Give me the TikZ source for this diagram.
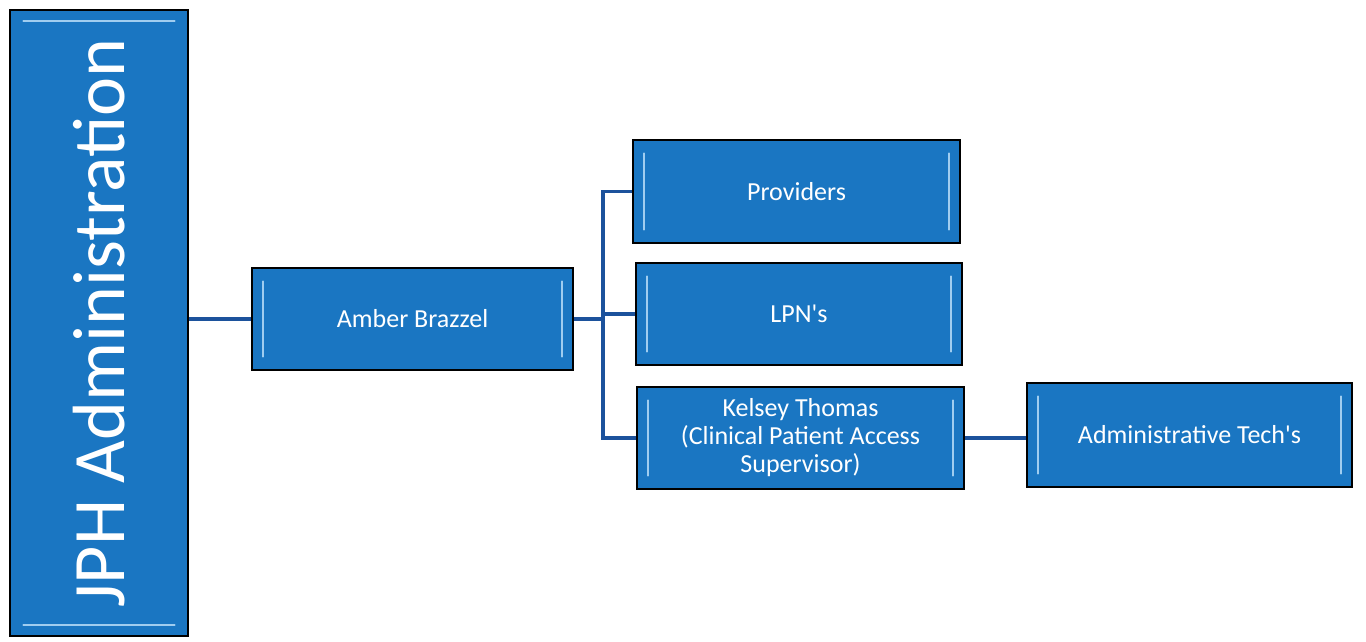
\documentclass[tikz,border=0pt]{standalone}
\usepackage{fontspec}
\setmainfont{Carlito}[Ligatures=TeXOff]
\usetikzlibrary{calc}
\definecolor{boxblue}{RGB}{26,118,194}
\definecolor{linkblue}{RGB}{28,82,156}
\definecolor{bevel}{RGB}{160,205,240}
\begin{document}
\begin{tikzpicture}[x=1pt,y=-1pt,
  box/.style={draw=black, line width=1.6pt, fill=boxblue, text=white,
    font=\fontsize{26}{28}\selectfont, align=center, inner sep=0pt},
  link/.style={draw=linkblue, line width=3.5pt},
  bevelline/.style={draw=bevel, line width=1.5pt, line cap=round}]
\useasboundingbox (0,0) rectangle (1366,641);
\fill[white] (0,0) rectangle (1366,641);

\node[box, minimum width=178pt, minimum height=626pt] (jph) at (99,323) {};
\node[rotate=90, text=white, font=\fontsize{74}{80}\selectfont] (jphtext) at (jph.center) {JPH Administration};

\node[box, minimum width=321pt, minimum height=102pt] (amber) at (412.5,319) {Amber Brazzel};
\node[box, minimum width=327pt, minimum height=103pt] (prov) at (796.5,191.5) {Providers};
\node[box, minimum width=326pt, minimum height=102pt] (lpn) at (799,314) {LPN's};
\node[box, minimum width=327pt, minimum height=102pt] (kel) at (800.5,438) {Kelsey Thomas\\(Clinical Patient Access\\Supervisor)};
\node[box, minimum width=325pt, minimum height=104pt] (adm) at (1189.5,435) {Administrative Tech's};

% bevel highlights
\foreach \n in {amber,prov,lpn,kel,adm}{
  \draw[bevelline] ($(\n.north west)+(12,14)$) -- ($(\n.south west)+(12,-14)$);
  \draw[bevelline] ($(\n.north east)+(-12,14)$) -- ($(\n.south east)+(-12,-14)$);
}
\draw[bevelline] ($(jph.north west)+(14,12)$) -- ($(jph.north east)+(-14,12)$);
\draw[bevelline] ($(jph.south west)+(14,-12)$) -- ($(jph.south east)+(-14,-12)$);

% connectors
\coordinate (trunk) at (603,319);
\draw[link] (jph.east |- amber.west) -- (amber.west);
\draw[link] (amber.east) -- (trunk);
\draw[link] (prov.west) -| (trunk) |- (kel.west);
\draw[link] (trunk |- lpn.west) -- (lpn.west);
\draw[link] (kel.east) -- (adm.west |- kel.east);
\end{tikzpicture}
\end{document}
